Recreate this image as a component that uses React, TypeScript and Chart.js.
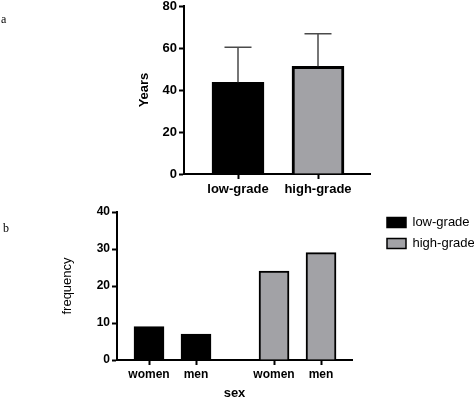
import React, { useEffect, useRef } from 'react';
import { Chart, registerables } from 'chart.js';

Chart.register(...registerables);

// ---------- data ----------
const ageCategories = ['low-grade', 'high-grade'];
const ageMeans = [43.7, 51.3];
const ageSD = [16.6, 15.5];
const ageAxisMax = 80;
const ageStep = 20;

const sexCategories = ['women', 'men'];
const gradeGroups = ['low-grade', 'high-grade'];
const lowGradeFreq = [9, 7];
const highGradeFreq = [24, 29];
const freqAxisMax = 40;
const freqStep = 10;

// ---------- style / layout ----------
const FONT = "'Liberation Sans', Arial, Helvetica, sans-serif";
const GRAY = '#a2a2a6';
const GROUP_GAP = 2.66; // distance (in category units) between the two grade groups

Chart.defaults.font.family = FONT;
Chart.defaults.color = '#000';

const axisCommon = (tickSize: number, tickPad: number) => ({
  offset: false,
  grid: {
    display: true,
    offset: false,
    drawOnChartArea: false,
    drawTicks: true,
    tickLength: 5,
    tickWidth: 2,
    tickColor: '#000',
  },
  border: { display: true, width: 2, color: '#000' },
  ticks: {
    color: '#000',
    font: { size: tickSize, weight: 'bold' as const, family: FONT },
    padding: tickPad,
    autoSkip: false,
    maxRotation: 0,
  },
});

const errorBarsPlugin = {
  id: 'errorBars',
  afterDatasetsDraw(chart: any) {
    const meta = chart.getDatasetMeta(0);
    const yScale = chart.scales.y;
    const ctx = chart.ctx;
    ctx.save();
    ctx.strokeStyle = '#4a4a4a';
    ctx.lineWidth = 1.5;
    meta.data.forEach((bar: any, i: number) => {
      const top = yScale.getPixelForValue(ageMeans[i] + ageSD[i]);
      ctx.beginPath();
      ctx.moveTo(bar.x, bar.y);
      ctx.lineTo(bar.x, top);
      ctx.moveTo(bar.x - 13.5, top);
      ctx.lineTo(bar.x + 13.5, top);
      ctx.stroke();
    });
    ctx.restore();
  },
};

const legendPlacePlugin = {
  id: 'legendPlace',
  afterLayout(chart: any) {
    const L = chart.legend;
    if (!L) return;
    const h = L.height;
    L.left = chart.chartArea.right + 27;
    L.right = L.left + 200;
    L.width = 200;
    L.top = chart.chartArea.top - 4;
    L.bottom = L.top + h;
  },
};

function AgeChart() {
  const ref = useRef<HTMLCanvasElement>(null);
  useEffect(() => {
    if (!ref.current) return;
    const xPos = ageCategories.map((_, i) => i + 1);
    const base = axisCommon(13, 3);
    const chart = new Chart(ref.current, {
      type: 'bar',
      data: {
        datasets: [
          {
            label: 'Years',
            data: ageMeans.map((m, i) => ({ x: xPos[i], y: m })),
            backgroundColor: ['#000000', GRAY],
            borderColor: '#000000',
            borderWidth: [2, 3],
            barThickness: 52,
            grouped: false,
          } as any,
        ],
      },
      options: {
        animation: false,
        responsive: false,
        maintainAspectRatio: false,
        events: [],
        layout: { padding: { top: 26, left: 137, right: 104, bottom: 0 } },
        plugins: { legend: { display: false }, tooltip: { enabled: false } },
        scales: {
          x: {
            type: 'linear',
            min: 0.325,
            max: 2.65,
            afterBuildTicks: (s: any) => {
              s.ticks = xPos.map((v) => ({ value: v }));
            },
            afterFit: (s: any) => {
              s.height = 26;
            },
            ...base,
            ticks: { ...base.ticks, padding: 3, callback: (_v: any, i: number) => ageCategories[i] },
          },
          y: {
            type: 'linear',
            min: 0,
            max: ageAxisMax,
            afterFit: (s: any) => {
              s.width = 47;
            },
            ...base,
            ticks: { ...base.ticks, stepSize: ageStep, padding: 2 },
            title: {
              display: true,
              text: 'Years',
              color: '#000',
              font: { size: 13, weight: 'bold', family: FONT },
              padding: { top: 0, bottom: 0 },
            },
          },
        } as any,
      },
      plugins: [errorBarsPlugin],
    });
    return () => chart.destroy();
  }, []);
  return (
    <canvas
      ref={ref}
      width={474}
      height={220}
      style={{ position: 'absolute', left: 0, top: -20, width: 474, height: 220 }}
    />
  );
}

function SexChart() {
  const ref = useRef<HTMLCanvasElement>(null);
  useEffect(() => {
    if (!ref.current) return;
    const groupData = [lowGradeFreq, highGradeFreq];
    const groupColors = ['#000000', GRAY];
    const tickPositions: number[] = [];
    gradeGroups.forEach((_, g) => sexCategories.forEach((_, c) => tickPositions.push(1 + g * GROUP_GAP + c)));
    const base = axisCommon(12, 2);
    const chart = new Chart(ref.current, {
      type: 'bar',
      data: {
        datasets: gradeGroups.map((g, gi) => ({
          label: g,
          data: groupData[gi].map((v, ci) => ({ x: 1 + gi * GROUP_GAP + ci, y: v })),
          backgroundColor: groupColors[gi],
          borderColor: '#000000',
          borderWidth: 2,
          barThickness: 30,
          grouped: false,
        })) as any,
      },
      options: {
        animation: false,
        responsive: false,
        maintainAspectRatio: false,
        events: [],
        layout: { padding: { top: 22, left: 60, right: 62, bottom: 0 } },
        plugins: {
          tooltip: { enabled: false },
          legend: {
            display: true,
            position: 'right',
            align: 'start',
            maxWidth: 60,
            labels: {
              boxWidth: 19,
              boxHeight: 10,
              padding: 8,
              color: '#000',
              font: { size: 13, family: FONT },
              generateLabels: (c: any) =>
                (Chart.defaults.plugins.legend.labels as any)
                  .generateLabels(c)
                  .map((l: any) => ({ ...l, lineWidth: 1.5 })),
            },
          },
        },
        scales: {
          x: {
            type: 'linear',
            min: 0.319,
            max: 2 + GROUP_GAP + 0.659,
            afterBuildTicks: (s: any) => {
              s.ticks = tickPositions.map((v) => ({ value: v }));
            },
            afterFit: (s: any) => {
              s.height = 45;
            },
            ...base,
            ticks: {
              ...base.ticks,
              padding: 2,
              callback: (_v: any, i: number) => sexCategories[i % sexCategories.length],
            },
            title: {
              display: true,
              text: 'sex',
              color: '#000',
              font: { size: 13, weight: 'bold', family: FONT },
              padding: { top: 0, bottom: 4 },
            },
          },
          y: {
            type: 'linear',
            min: 0,
            max: freqAxisMax,
            afterFit: (s: any) => {
              s.width = 57;
            },
            ...base,
            ticks: { ...base.ticks, stepSize: freqStep, padding: 2 },
            title: {
              display: true,
              text: 'frequency',
              color: '#000',
              font: { size: 13, weight: 'normal', family: FONT },
              padding: { top: 0, bottom: 0 },
            },
          },
        } as any,
      },
      plugins: [legendPlacePlugin],
    });
    return () => chart.destroy();
  }, []);
  return (
    <canvas
      ref={ref}
      width={474}
      height={215}
      style={{ position: 'absolute', left: 0, top: 190, width: 474, height: 215 }}
    />
  );
}

export default function App() {
  return (
    <div
      style={{
        position: 'fixed',
        left: 0,
        top: 0,
        width: 474,
        height: 397,
        overflow: 'hidden',
        background: '#fff',
      }}
    >
      <AgeChart />
      <SexChart />
      <div
        style={{
          position: 'absolute',
          left: 1,
          top: 12,
          fontFamily: "'Liberation Serif', 'DejaVu Serif', serif",
          fontSize: 12,
          lineHeight: '14px',
          color: '#000',
        }}
      >
        a
      </div>
      <div
        style={{
          position: 'absolute',
          left: 3,
          top: 221,
          fontFamily: "'Liberation Serif', 'DejaVu Serif', serif",
          fontSize: 12,
          lineHeight: '14px',
          color: '#000',
        }}
      >
        b
      </div>
    </div>
  );
}
